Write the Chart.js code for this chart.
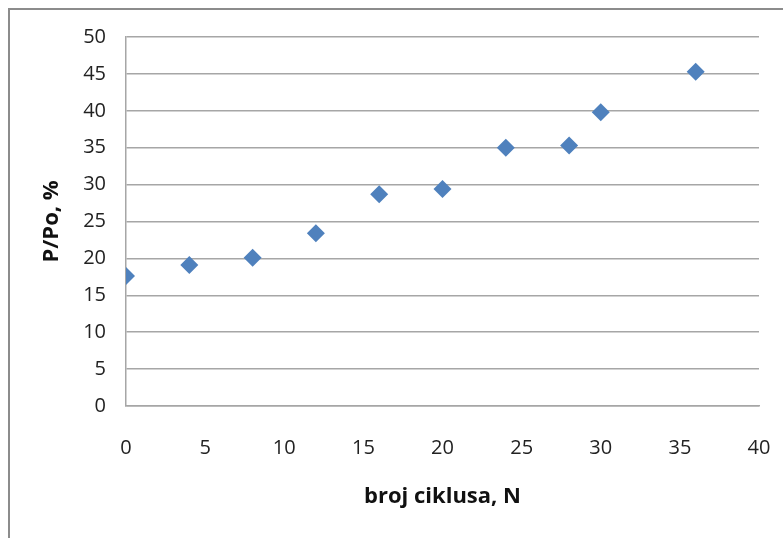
<!DOCTYPE html>
<html>
<head>
<meta charset="utf-8">
<script src="https://cdn.jsdelivr.net/npm/chart.js@4/dist/chart.umd.min.js"></script>
<style>
  body { margin:0; background:#fff; }
  #wrap { position:relative; width:783px; height:538px; overflow:hidden; }
  #frame { position:absolute; left:8px; top:8px; width:800px; height:560px; border:2px solid #8c8c8c; }
  #canvas { position:absolute; left:0; top:0; }
</style>
</head>
<body>
<div id="wrap">
  <div id="frame"></div>
  <canvas id="canvas" width="783" height="538"></canvas>
</div>
<script>
// cycles N and P/Po in %
var cycles = [0, 4, 8, 12, 16, 20, 24, 28, 30, 36];
var ratio = [17.6, 19.1, 20.1, 23.4, 28.7, 29.4, 35.0, 35.3, 39.8, 45.3];
var xTitle = 'broj ciklusa, N';
var yTitle = 'P/Po, %';

var pts = [];
for (let i = 0; i < cycles.length; i++) {
    pts.push({x: cycles[i], y: ratio[i]});
}

var lineCol = '#a6a6a6';
var font = {family: "'Open Sans', sans-serif", size: 20};
var titleFont = {family: "'Open Sans', sans-serif", size: 22, weight: 'bold'};

var ctx = document.getElementById('canvas').getContext('2d');
var myChart = new Chart(ctx, {
    type: 'scatter',
    data: {
        datasets: [{
            data: pts,
            pointStyle: 'rectRot',
            pointRadius: 9,
            backgroundColor: '#4f81bd',
            borderColor: '#4f81bd',
            borderWidth: 0
        }]
    },
    options: {
        responsive: false,
        animation: false,
        layout: { padding: {left: 0, top: 37, right: 24, bottom: 0} },
        plugins: { legend: {display: false}, tooltip: {enabled: false} },
        scales: {
            x: {
                type: 'linear', min: 0, max: 40,
                afterFit: function(s) { s.height = 132; s.paddingLeft = 0; s.paddingRight = 0 },
                ticks: { stepSize: 5, padding: 30, color: '#222', font: font },
                grid: { display: false, drawTicks: false },
                border: { display: true, color: lineCol, width: 1.5 },
                title: { display: true, text: xTitle, color: '#111', font: titleFont,
                    padding: {top: 0, bottom: 28} }
            },
            y: {
                min: 0, max: 50,
                afterFit: function(s) { s.width = 126 },
                ticks: { stepSize: 5, padding: 20, color: '#222', font: font },
                grid: { color: lineCol, lineWidth: 1.5, drawTicks: false },
                border: { display: true, color: lineCol, width: 1.5 },
                title: { display: true, text: yTitle, color: '#111', font: titleFont,
                    padding: {top: 39, bottom: 0} }
            }
        }
    }
});
</script>
</body>
</html>
